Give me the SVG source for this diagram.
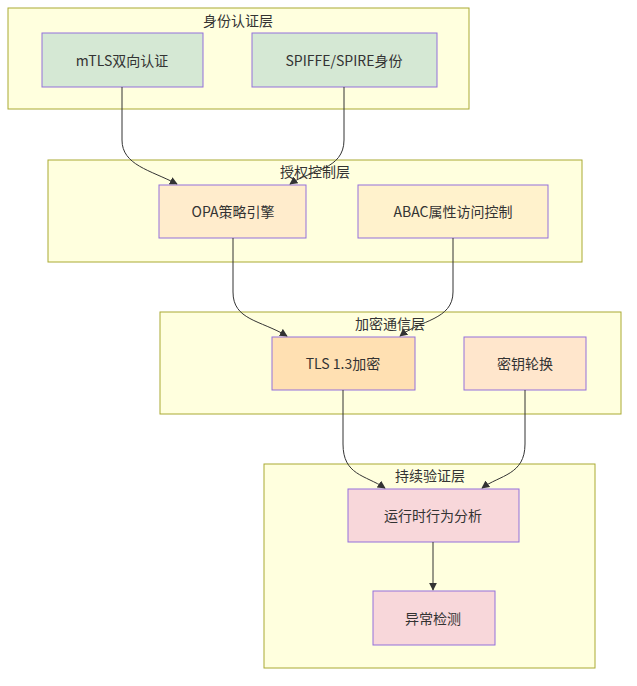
<svg xmlns="http://www.w3.org/2000/svg" width="637" height="686" viewBox="0 0 637 686">
<style>
.cl{fill:#ffffde;stroke:#aaaa33;stroke-width:1}
.nd{stroke:#9370db;stroke-width:1}
text{font-family:"Noto Sans CJK SC","Noto Sans",sans-serif;font-size:14px;fill:#333;text-anchor:middle;dominant-baseline:central}
.e{fill:none;stroke:#333;stroke-width:1}
</style>
<defs><marker id="a" viewBox="0 0 10 10" refX="9" refY="5" markerWidth="8" markerHeight="8" orient="auto"><path d="M0,0L10,5L0,10z" fill="#333"/></marker></defs>
<g id="c1"><rect class="cl" x="8" y="8" width="461" height="101"/><text x="238" y="20">身份认证层</text></g>
<g id="c2"><rect class="cl" x="48" y="160" width="534" height="102"/><text x="315" y="171">授权控制层</text></g>
<g id="c3"><rect class="cl" x="160" y="312" width="461" height="102"/><text x="390" y="323">加密通信层</text></g>
<g id="c4"><rect class="cl" x="264" y="464" width="331" height="204"/><text x="430" y="475">持续验证层</text></g>
<g id="n1"><rect class="nd" fill="#d5e8d4" x="42" y="33" width="161" height="54"/><text x="122" y="60">mTLS双向认证</text></g>
<g id="n2"><rect class="nd" fill="#d5e8d4" x="252" y="33" width="185" height="54"/><text x="344" y="60">SPIFFE/SPIRE身份</text></g>
<g id="n3"><rect class="nd" fill="#ffeccc" x="159" y="185" width="147" height="53"/><text x="233" y="211">OPA策略引擎</text></g>
<g id="n4"><rect class="nd" fill="#fff2cc" x="358" y="185" width="190" height="53"/><text x="453" y="211">ABAC属性访问控制</text></g>
<g id="n5"><rect class="nd" fill="#ffe0b2" x="272" y="337" width="143" height="53"/><text x="343" y="363">TLS 1.3加密</text></g>
<g id="n6"><rect class="nd" fill="#ffe6cc" x="464" y="337" width="122" height="53"/><text x="525" y="363">密钥轮换</text></g>
<g id="n7"><rect class="nd" fill="#f8d7da" x="348" y="489" width="171" height="53"/><text x="433" y="515">运行时行为分析</text></g>
<g id="n8"><rect class="nd" fill="#f8d7da" x="373" y="591" width="122" height="54"/><text x="433" y="618">异常检测</text></g>
<g id="edges">
<path class="e" marker-end="url(#a)" d="M122,87V140C122,165 150,170 177,184"/>
<path class="e" marker-end="url(#a)" d="M344,87V140C344,170 310,170 290,184"/>
<path class="e" marker-end="url(#a)" d="M233,238V292C233,320 260,320 287,336"/>
<path class="e" marker-end="url(#a)" d="M453,238V292C453,320 420,320 400,336"/>
<path class="e" marker-end="url(#a)" d="M343,390V444C343,475 365,475 385,488"/>
<path class="e" marker-end="url(#a)" d="M525,390V444C525,475 500,475 482,488"/>
<path class="e" marker-end="url(#a)" d="M433,542V590"/>
</g>
</svg>
